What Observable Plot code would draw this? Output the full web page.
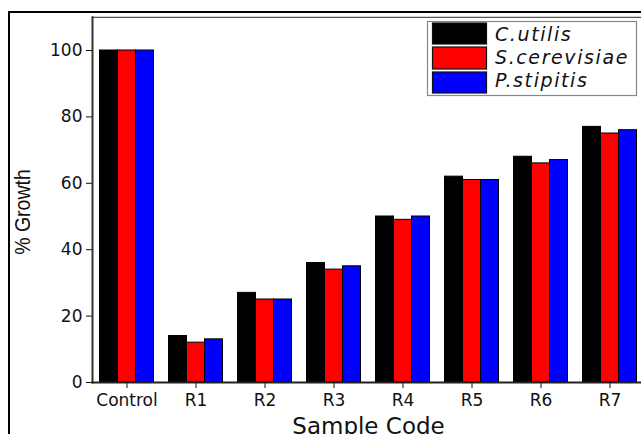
<!DOCTYPE html>
<html><head><meta charset="utf-8">
<script src="https://cdn.jsdelivr.net/npm/d3@7"></script>
<script src="https://cdn.jsdelivr.net/npm/@observablehq/plot@0.6"></script>
<style>
html,body{margin:0;padding:0;background:#fff;overflow:hidden;width:641px;height:434px;}
#wrap{position:relative;width:641px;height:434px;overflow:hidden;}
#border{position:absolute;left:7.5px;top:10.5px;width:700px;height:500px;border-left:2.5px solid #000;border-top:2.5px solid #000;}
#chart{position:absolute;left:0;top:0;width:660px;}
#chart svg{max-width:none !important;}
#ylabel{position:absolute;left:23px;top:211.5px;transform:translate(-50%,-50%) rotate(-90deg) scale(1,1.15);font-family:"Liberation Sans",Arial,sans-serif;font-size:19.5px;line-height:1;color:#111;white-space:nowrap;}
#legend{position:absolute;left:0;top:0;}
</style>
</head><body>
<div id="wrap"><div id="border"></div><div id="chart"></div><div id="ylabel">% Growth</div><svg id="legend" width="641" height="120"></svg></div>
<script>
const samples = ["Control","R1","R2","R3","R4","R5","R6","R7"];
const species = ["C.utilis","S.cerevisiae","P.stipitis"];
const cUtilis     = [100,14,27,36,50,62,68,77];
const sCerevisiae = [100,12,25,34,49,61,66,75];
const pStipitis   = [100,13,25,35,50,61,67,76];
const colors = ["#000000","#ff0000","#0000ff"];
const yTicks = [0,20,40,60,80,100];

const series = [cUtilis, sCerevisiae, pStipitis];
const data = [];
samples.forEach((s,i)=>species.forEach((sp,j)=>data.push({sample:s, species:sp, value:series[j][i]})));

const chart = Plot.plot({
  width: 660, height: 450,
  marginLeft: 90.5, marginRight: 15, marginTop: 16.8, marginBottom: 68,
  style: {fontFamily: "DejaVu Sans", fontSize: "17px", color: "#111", background: "transparent", overflow: "visible"},
  fx: {domain: samples, padding: 0, tickSize: 6, tickPadding: 5, label: "Sample Code", labelAnchor: "center", labelOffset: 51},
  x: {domain: species, paddingInner: 0, paddingOuter: 0.355, axis: null},
  y: {domain: [0,110], ticks: yTicks, tickSize: 6, tickPadding: 4, label: null},
  color: {domain: species, range: colors},
  marks: [
    Plot.barY(data, {fx: "sample", x: "species", y: "value", fill: "species", stroke: "#000", strokeWidth: 1}),
    Plot.frame({facet: "super", anchor: "top", stroke: "#555", strokeWidth: 1.3}),
    Plot.frame({facet: "super", anchor: "left", stroke: "#333", strokeWidth: 2}),
    Plot.frame({facet: "super", anchor: "bottom", stroke: "#222", strokeWidth: 2})
  ]
});
chart.style.maxWidth = "none";
document.getElementById("chart").appendChild(chart);
d3.select(chart).selectAll('g[aria-label="fx-axis label"] text').style("font-size","23px");

// legend
const color = chart.scale("color");
const lg = d3.select("#legend");
lg.append("rect").attr("x",427.5).attr("y",21.5).attr("width",209).attr("height",74)
  .attr("fill","#fff").attr("stroke","#888").attr("stroke-width",1.2);
const rowsY = [23, 47, 72];
const rowsH = [21, 22, 21];
const base = [41, 63.5, 86.5];
species.forEach((sp,i)=>{
  lg.append("rect").attr("x",432.5).attr("y",rowsY[i]).attr("width",54).attr("height",rowsH[i])
    .attr("fill",color.apply(sp)).attr("stroke","#111").attr("stroke-width",1.2);
  lg.append("text").attr("x",495).attr("y",base[i]).text(sp)
    .attr("font-family","DejaVu Sans").attr("font-style","italic").attr("font-size",19)
    .attr("letter-spacing",1.6).attr("fill","#111");
});
</script>
</body></html>
